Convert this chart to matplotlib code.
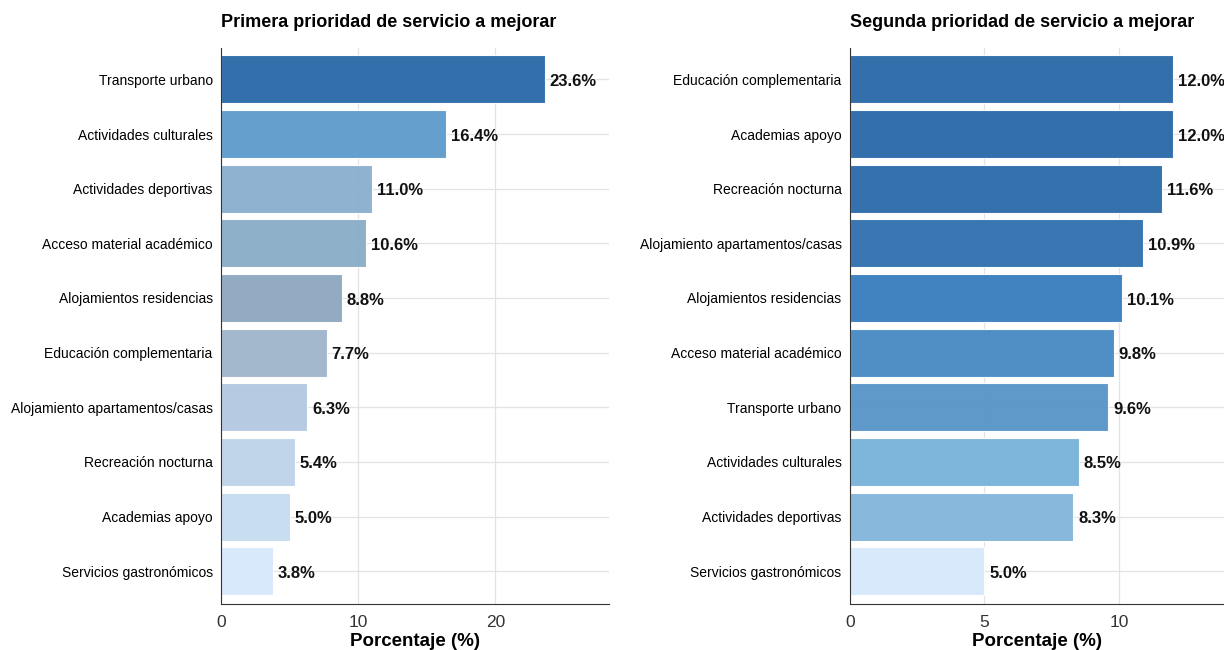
import numpy as np
import matplotlib.pyplot as plt
import matplotlib as mpl

mpl.rcParams['font.family'] = ['Liberation Sans', 'DejaVu Sans']

# data
cats_1 = ["Transporte urbano", "Actividades culturales", "Actividades deportivas",
          "Acceso material académico", "Alojamientos residencias", "Educación complementaria",
          "Alojamiento apartamentos/casas", "Recreación nocturna", "Academias apoyo",
          "Servicios gastronómicos"]
vals_1 = [23.6, 16.4, 11.0, 10.6, 8.8, 7.7, 6.3, 5.4, 5.0, 3.8]
colors_1 = ['#2c6aa8', '#5f9ccc', '#8ab0cf', '#8aaec8', '#8fa8c0', '#a0b6cc',
            '#b4cae0', '#bfd4ea', '#c8dcf0', '#d6e9fb']

cats_2 = ["Educación complementaria", "Academias apoyo", "Recreación nocturna",
          "Alojamiento apartamentos/casas", "Alojamientos residencias", "Acceso material académico",
          "Transporte urbano", "Actividades culturales", "Actividades deportivas",
          "Servicios gastronómicos"]
vals_2 = [12.0, 12.0, 11.6, 10.9, 10.1, 9.8, 9.6, 8.5, 8.3, 5.0]
colors_2 = ['#2c6aa8', '#2c6aa8', '#2e6cab', '#3272b0', '#3b7fbf', '#4a8bc4',
            '#5a96c8', '#7ab4da', '#84b6da', '#d6e9fb']

titles = ["Primera prioridad de servicio a mejorar", "Segunda prioridad de servicio a mejorar"]
xticks_1 = [0, 10, 20]
xticks_2 = [0, 5, 10]

fig = plt.figure(figsize=(12.24, 6.5), dpi=100)
ax1 = fig.add_axes([0.1806, 0.0708, 0.317, 0.855])
ax2 = fig.add_axes([0.6944, 0.0708, 0.3056, 0.855])

panels = [(ax1, cats_1, vals_1, colors_1, titles[0], xticks_1, 28.3),
          (ax2, cats_2, vals_2, colors_2, titles[1], xticks_2, 13.9)]

for ax, cats, vals, cols, title, xt, xmax in panels:
    y = np.arange(len(cats))[::-1]
    ax.barh(y, vals, height=0.88, color=cols, alpha=0.97, edgecolor='white', linewidth=0.8, zorder=1)
    for yi, v in zip(y, vals):
        ax.annotate(f"{v:.1f}%", (v, yi), xytext=(3.5, -1.5), textcoords='offset points',
                    ha='left', va='center', fontsize=12, fontweight='bold', color='#111111')
    ax.set_yticks(y, cats, fontsize=10)
    ax.set_xticks(xt, [str(t) for t in xt], fontsize=12.5, color='#333333')
    ax.set_xlim(0, xmax)
    ax.set_ylim(-0.6, len(cats) - 1 + 0.57)
    ax.tick_params(length=0, pad=6)
    ax.tick_params(axis='x', pad=8)
    ax.grid(True, color='#e3e3e3', linewidth=0.9, zorder=0)
    ax.set_axisbelow(True)
    for s in ['top', 'right']:
        ax.spines[s].set_visible(False)
    ax.spines['left'].set_color('#333333')
    ax.spines['bottom'].set_color('#333333')
    ax.set_title(title, loc='left', fontsize=13, fontweight='bold', pad=15)
    ax.set_xlabel("Porcentaje (%)", fontsize=13.5, fontweight='bold', labelpad=2)

plt.savefig("out.png", dpi=100)
